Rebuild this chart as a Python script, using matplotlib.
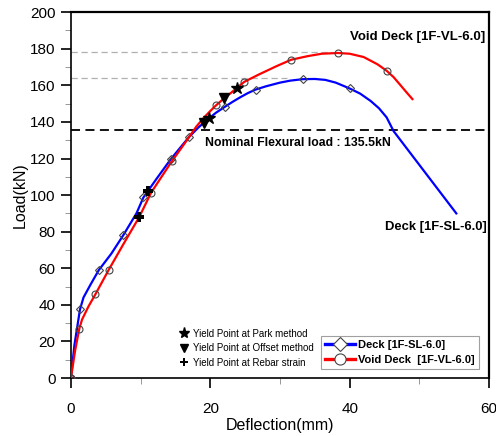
import numpy as np
import matplotlib.pyplot as plt
from matplotlib.lines import Line2D

plt.rcParams['font.family'] = ['Liberation Sans', 'DejaVu Sans']

# Deck [1F-SL-6.0] (blue)
deck_x = [0, 0.5, 1.3, 1.8, 2.8, 4.0, 5.8, 7.5, 9.4, 10.4, 12.3, 14.3, 15.7, 17.0, 18.3,
          19.5, 20.8, 22.1, 23.2, 24.3, 25.4, 26.5, 28.0, 30.0, 31.5, 33.3, 35.0, 36.5,
          38.0, 40.0, 41.5, 43.0, 44.2, 45.3, 46.3, 48.0, 50.0, 52.0, 54.0, 55.3]
deck_y = [0, 18, 37.5, 44, 51, 59, 68, 78, 90, 98.7, 109, 119.5, 126, 132, 137,
          141, 145, 148.3, 151, 153.5, 155.8, 157.7, 159.5, 161.5, 162.6, 163.4, 163.5, 163,
          161.5, 158.3, 155.5, 151.5, 147.5, 142.5, 135, 126.5, 116.5, 106.5, 96.5, 90]
deck_mark_x = [0, 1.3, 4.0, 7.5, 10.4, 14.3, 17.0, 22.1, 26.5, 33.3, 40.0]

# Void Deck [1F-VL-6.0] (red)
void_x = [0, 0.6, 1.2, 1.6, 2.5, 3.5, 5.4, 7.5, 9.8, 11.5, 13.0, 14.5, 15.8, 17.0, 18.0,
          19.0, 20.0, 20.8, 22.0, 23.0, 24.0, 24.9, 27.0, 29.5, 31.6, 34.0, 36.0, 38.3,
          40.0, 42.0, 44.0, 45.3, 46.3, 47.2, 48.2, 49.0]
void_y = [0, 15, 27, 32, 39, 45.7, 59, 73, 88, 101.3, 110, 118.6, 125.5, 132, 137.5,
          142, 146, 149, 153, 156, 159.2, 162, 166, 170.5, 174, 176, 177.3, 177.7,
          177.3, 175.5, 171.5, 168, 164.5, 160.5, 156, 152.5]
void_mark_x = [0, 1.2, 3.5, 5.4, 11.5, 14.5, 20.8, 24.9, 31.6, 38.3, 45.3]

# yield points
park_x = [19.8, 23.8]
park_y = [142.4, 158.8]
offset_x = [19.1, 21.9]
offset_y = [139.5, 153.3]
rebar_x = [9.8, 11.0]
rebar_y = [87.8, 102.3]

nominal = 135.5
void_max = 178
deck_max = 164.2

fig = plt.figure(figsize=(4.96, 4.36), dpi=100)
ax = fig.add_axes([0.143, 0.133, 0.843, 0.839])

ax.axhline(void_max, xmin=0, xmax=37.5 / 60, color='#b0b0b0', ls='--', lw=0.9, dashes=(5, 3))
ax.axhline(deck_max, xmin=0, xmax=31 / 60, color='#b0b0b0', ls='--', lw=0.9, dashes=(5, 3))
ax.axhline(nominal, color='black', ls='--', lw=1.3, dashes=(5, 3))

deck_mark = [deck_x.index(v) for v in deck_mark_x]
void_mark = [void_x.index(v) for v in void_mark_x]
ax.plot(deck_x, deck_y, color='blue', lw=1.6, marker='D', ms=4.5, mfc='none', mec='#444444',
        mew=0.8, markevery=deck_mark, zorder=3)
ax.plot(void_x, void_y, color='red', lw=1.6, marker='o', ms=5, mfc='none', mec='#444444',
        mew=0.8, markevery=void_mark, zorder=3)

ax.plot(park_x, park_y, ls='none', marker='*', ms=9, color='black', zorder=4)
ax.plot(offset_x, offset_y, ls='none', marker='v', ms=6.5, color='black', zorder=4)
ax.plot(rebar_x, rebar_y, ls='none', marker='P', ms=6.5, color='black', mew=0, zorder=4)

ax.text(59.5, 183, 'Void Deck [1F-VL-6.0]', ha='right', va='bottom', fontsize=9.5, fontweight='bold')
ax.text(19.3, 131.5, 'Nominal Flexural load : 135.5kN', ha='left', va='top', fontsize=8.8,
        fontweight='bold')
ax.text(59.7, 86, 'Deck [1F-SL-6.0]', ha='right', va='top', fontsize=9.4, fontweight='bold')

ax.set_xlim(0, 60)
ax.set_ylim(0, 200)
ax.set_xticks([0, 20, 40, 60])
ax.set_xticks([10, 30, 50], minor=True)
ax.set_yticks(np.arange(0, 201, 20))
ax.set_yticks(np.arange(10, 200, 20), minor=True)
ax.tick_params(which='major', direction='out', length=7, width=1.2, labelsize=11, pad=4)
ax.tick_params(which='minor', direction='out', length=4, width=0.6, color='#888888')
ax.tick_params(axis='x', pad=10)
for s in ax.spines.values():
    s.set_linewidth(1.6)
ax.spines['left'].set_linewidth(1.2)
ax.spines['bottom'].set_linewidth(1.2)
ax.set_xlabel('Deflection(mm)', fontsize=11.5, labelpad=2)
ax.set_ylabel('Load(kN)', fontsize=11.5, labelpad=2)

h1 = [Line2D([], [], ls='none', marker='*', ms=8, color='black'),
      Line2D([], [], ls='none', marker='v', ms=6, color='black'),
      Line2D([], [], ls='none', marker='P', ms=6, color='black', mew=0)]
leg1 = ax.legend(h1, ['Yield Point at Park method', 'Yield Point at Offset method',
                      'Yield Point at Rebar strain'],
                 loc='lower left', bbox_to_anchor=(0.245, 0.01), frameon=False, fontsize=7,
                 handlelength=0.8, handletextpad=0.55, labelspacing=0.45, borderpad=0.2)
ax.add_artist(leg1)

h2 = [Line2D([], [], color='blue', lw=2.4, marker='D', ms=7, mfc='white', mec='#444444', mew=0.8),
      Line2D([], [], color='red', lw=2.4, marker='o', ms=8, mfc='white', mec='#444444', mew=0.8)]
leg2 = ax.legend(h2, ['Deck [1F-SL-6.0]', 'Void Deck  [1F-VL-6.0]'],
                 loc='lower right', bbox_to_anchor=(0.985, 0.015),
                 prop={'weight': 'bold', 'size': 8}, handlelength=2.7, handletextpad=0.3,
                 labelspacing=0.4, borderpad=0.4, borderaxespad=0.3, fancybox=False,
                 edgecolor='#888888')
leg2.get_frame().set_linewidth(0.8)

fig.savefig('out.png', dpi=100)
